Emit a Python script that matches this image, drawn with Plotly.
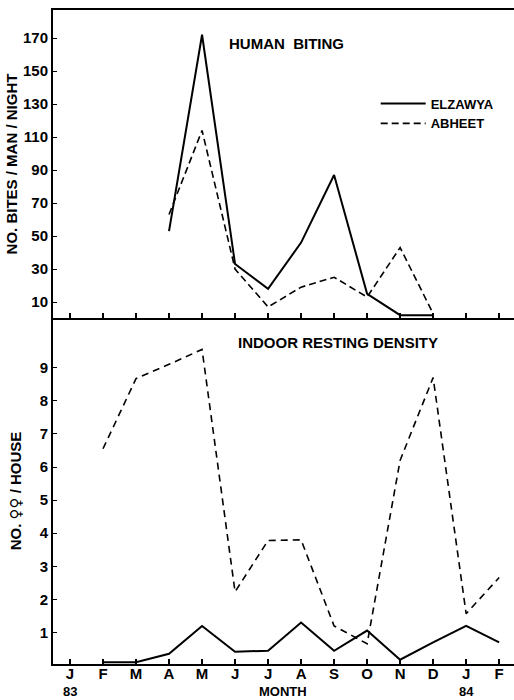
import plotly.graph_objects as go
from plotly.subplots import make_subplots

months = ["J", "F", "M", "A", "M", "J", "J", "A", "S", "O", "N", "D", "J", "F"]
month_idx = list(range(len(months)))

# Human biting (bites / man / night), months A..D 1983 (index 3..11)
hb_x = [3, 4, 5, 6, 7, 8, 9, 10, 11]
hb_elzawya = [53, 172, 33, 18, 46, 87, 15, 2, 2]
hb_abheet = [63, 114, 30, 7, 19, 25, 13, 43, 3]

# Indoor resting density (females / house), F 1983 .. F 1984 (index 1..13)
ird_x = [1, 2, 3, 4, 5, 6, 7, 8, 9, 10, 11, 12, 13]
ird_elzawya = [0.1, 0.1, 0.36, 1.2, 0.42, 0.45, 1.3, 0.45, 1.06, 0.18, 0.7, 1.2, 0.7]
ird_abheet = [6.55, 8.67, 9.1, 9.55, 2.23, 3.78, 3.8, 1.2, 0.66, 6.2, 8.7, 1.57, 2.66]

hb_ticks = [10, 30, 50, 70, 90, 110, 130, 150, 170]
ird_ticks = [1, 2, 3, 4, 5, 6, 7, 8, 9]

FONT = "Liberation Sans Narrow, Liberation Sans, Arial Narrow, sans-serif"
BOLD = dict(family=FONT, color="black", weight="bold")

fig = make_subplots(rows=2, cols=1, shared_xaxes=False, vertical_spacing=0,
                    row_heights=[308, 346])

fig.add_trace(go.Scatter(x=hb_x, y=hb_elzawya, mode="lines", name="ELZAWYA",
                         line=dict(color="black", width=2)), row=1, col=1)
fig.add_trace(go.Scatter(x=hb_x, y=hb_abheet, mode="lines", name="ABHEET",
                         line=dict(color="black", width=1.6, dash="7px,4px")), row=1, col=1)
fig.add_trace(go.Scatter(x=ird_x, y=ird_elzawya, mode="lines", showlegend=False,
                         line=dict(color="black", width=2)), row=2, col=1)
fig.add_trace(go.Scatter(x=ird_x, y=ird_abheet, mode="lines", showlegend=False,
                         line=dict(color="black", width=1.6, dash="7px,5px")), row=2, col=1)

xr = [-0.515, 13.45]
common_x = dict(range=xr, tickvals=month_idx, showgrid=False, zeroline=False,
                showline=True, linecolor="black", linewidth=2,
                ticks="inside", ticklen=5, tickcolor="black", tickwidth=1.5)
fig.update_xaxes(**common_x, mirror=True, showticklabels=False, row=1, col=1)
fig.update_xaxes(**common_x, ticktext=months, ticklabelstandoff=-5,
                 tickfont=dict(**BOLD, size=15), row=2, col=1)

common_y = dict(showgrid=False, zeroline=False, showline=True, linecolor="black",
                linewidth=2, ticks="inside", ticklen=4, tickcolor="black",
                tickfont=dict(**BOLD, size=15))
fig.update_yaxes(**common_y, range=[0.3, 187], tickvals=hb_ticks,
                 title=dict(text="NO. BITES / MAN / NIGHT", standoff=2,
                            font=dict(**BOLD, size=15)),
                 row=1, col=1)
fig.update_yaxes(**common_y, range=[0.05, 10.5], tickvals=ird_ticks,
                 title=dict(text='NO. <span style="font-family:DejaVu Sans">♀♀</span> / HOUSE',
                            standoff=14, font=dict(**BOLD, size=15)),
                 row=2, col=1)

ann_font = dict(**BOLD, size=15)
fig.add_annotation(text="HUMAN&nbsp;&nbsp;BITING", x=(286 - 70) / 33.0, xref="x",
                   y=(664 - 33) / 654, yref="paper", showarrow=False, font=ann_font)
fig.add_annotation(text="INDOOR RESTING DENSITY", x=(338 - 70) / 33.0, xref="x2",
                   y=(664 - 343) / 654, yref="paper", showarrow=False, font=ann_font)
for txt, xv in [("83", 0), ("MONTH", (283 - 70) / 33.0), ("84", 12)]:
    fig.add_annotation(text=txt, x=xv, xref="x2", y=-0.0425, yref="paper",
                       yanchor="middle", showarrow=False, font=dict(**BOLD, size=13))

fig.update_layout(
    width=514, height=700,
    margin=dict(l=53, r=0, t=10, b=36),
    paper_bgcolor="white", plot_bgcolor="white",
    showlegend=True,
    legend=dict(x=0.7, y=0.88, xanchor="left", yanchor="top",
                bgcolor="rgba(0,0,0,0)", tracegroupgap=0, itemwidth=45,
                font=dict(**BOLD, size=13)),
)

fig.write_html("out.html", config={"displayModeBar": False},
               post_script="document.body.style.margin='0';"
                           "document.body.style.overflow='hidden';")
